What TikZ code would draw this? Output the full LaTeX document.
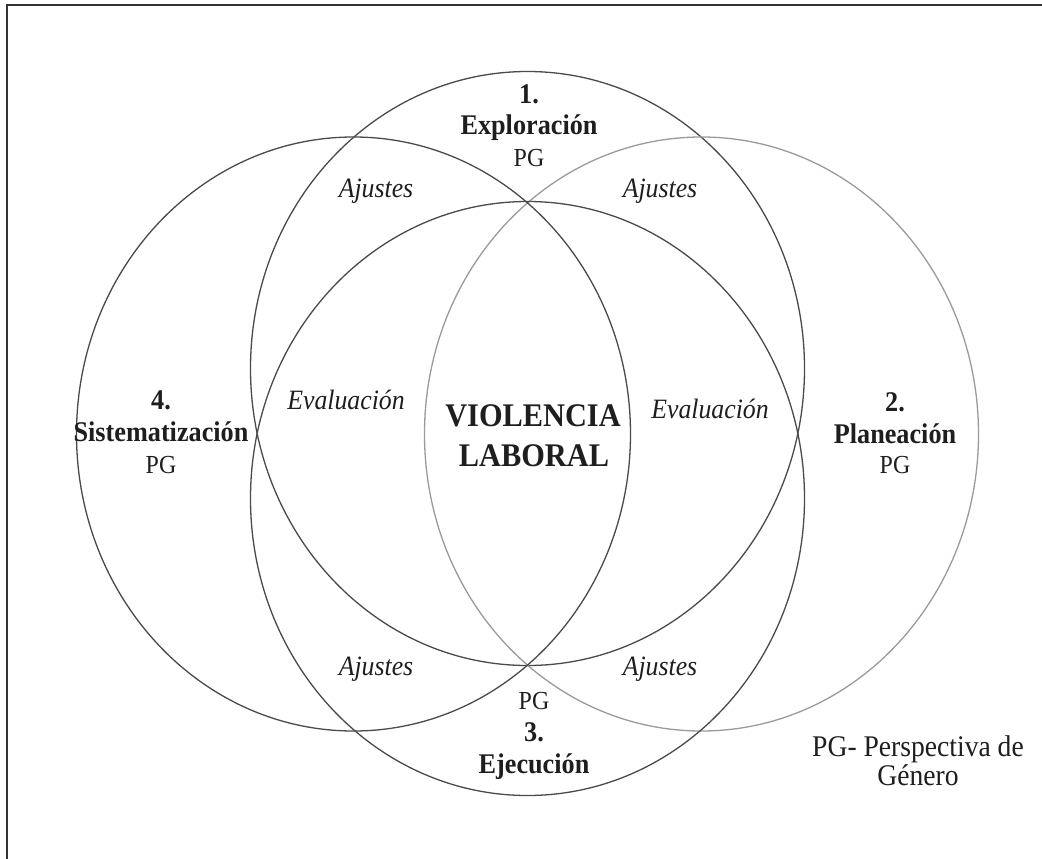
\documentclass[tikz,border=0pt]{standalone}
\usepackage{fontspec}
\setmainfont{Liberation Serif}[FakeStretch=0.92]
\definecolor{ringdark}{HTML}{4A4A4A}
\definecolor{ringlight}{HTML}{9A9A9A}
\definecolor{framecol}{HTML}{333333}
\definecolor{inkcol}{HTML}{1E1E1E}
\begin{document}
\begin{tikzpicture}[x=1pt,y=-1pt,
  ring/.style={draw=ringdark,line width=1.3pt},
  ringpale/.style={draw=ringlight,line width=1.3pt},
  lbl/.style={anchor=base,inner sep=0pt,outer sep=0pt,text=inkcol},
  stage/.style={lbl,font=\fontsize{28.5}{32}\selectfont\bfseries},
  pg/.style={lbl,font=\fontsize{26}{30}\selectfont},
  note/.style={lbl,font=\fontsize{28}{32}\selectfont\itshape},
  core/.style={lbl,font=\fontsize{33}{38}\selectfont\bfseries},
  legend/.style={lbl,font=\fontsize{30}{34}\selectfont}]
\useasboundingbox (0,0) rectangle (1042,859);

% frame
\draw[framecol,line width=2.2pt] (7,859) -- (7,5) -- (1042,5);

% the four overlapping rings
\draw[ring]     (527.5,368.5) ellipse [x radius=277pt, y radius=297pt]; % 1
\draw[ringpale] (701.5,434)   ellipse [x radius=277pt, y radius=297pt]; % 2
\draw[ring]     (527.5,498.5) ellipse [x radius=277pt, y radius=297pt]; % 3
\draw[ring]     (353.5,434)   ellipse [x radius=277pt, y radius=297pt]; % 4

% stage 1
\node[stage] (s1num)  at (529,103) {1.};
\node[stage] (s1name) at (529,134) {Exploración};
\node[pg]    (s1pg)   at (529,166) {PG};

% stage 2
\node[stage] (s2num)  at (895,411) {2.};
\node[stage] (s2name) at (895,443) {Planeación};
\node[pg]    (s2pg)   at (895,473) {PG};

% stage 3
\node[pg]    (s3pg)   at (534,709) {PG};
\node[stage] (s3num)  at (534,741) {3.};
\node[stage] (s3name) at (534,773) {Ejecución};

% stage 4
\node[stage] (s4num)  at (161,409) {4.};
\node[stage] (s4name) at (161,441) {Sistematización};
\node[pg]    (s4pg)   at (161,473) {PG};

% adjustments and evaluation
\node[note] (ajtl) at (376,197) {Ajustes};
\node[note] (ajtr) at (660,197) {Ajustes};
\node[note] (ajbl) at (376,675) {Ajustes};
\node[note] (ajbr) at (660,675) {Ajustes};
\node[note] (evl)  at (346,409) {Evaluación};
\node[note] (evr)  at (710,418) {Evaluación};

% centre
\node[core] (corea) at (533,426) {VIOLENCIA};
\node[core] (coreb) at (534,466) {LABORAL};

% legend
\node[legend] (leg1) at (918,756) {PG- Perspectiva de};
\node[legend] (leg2) at (918,785) {Género};
\end{tikzpicture}
\end{document}
